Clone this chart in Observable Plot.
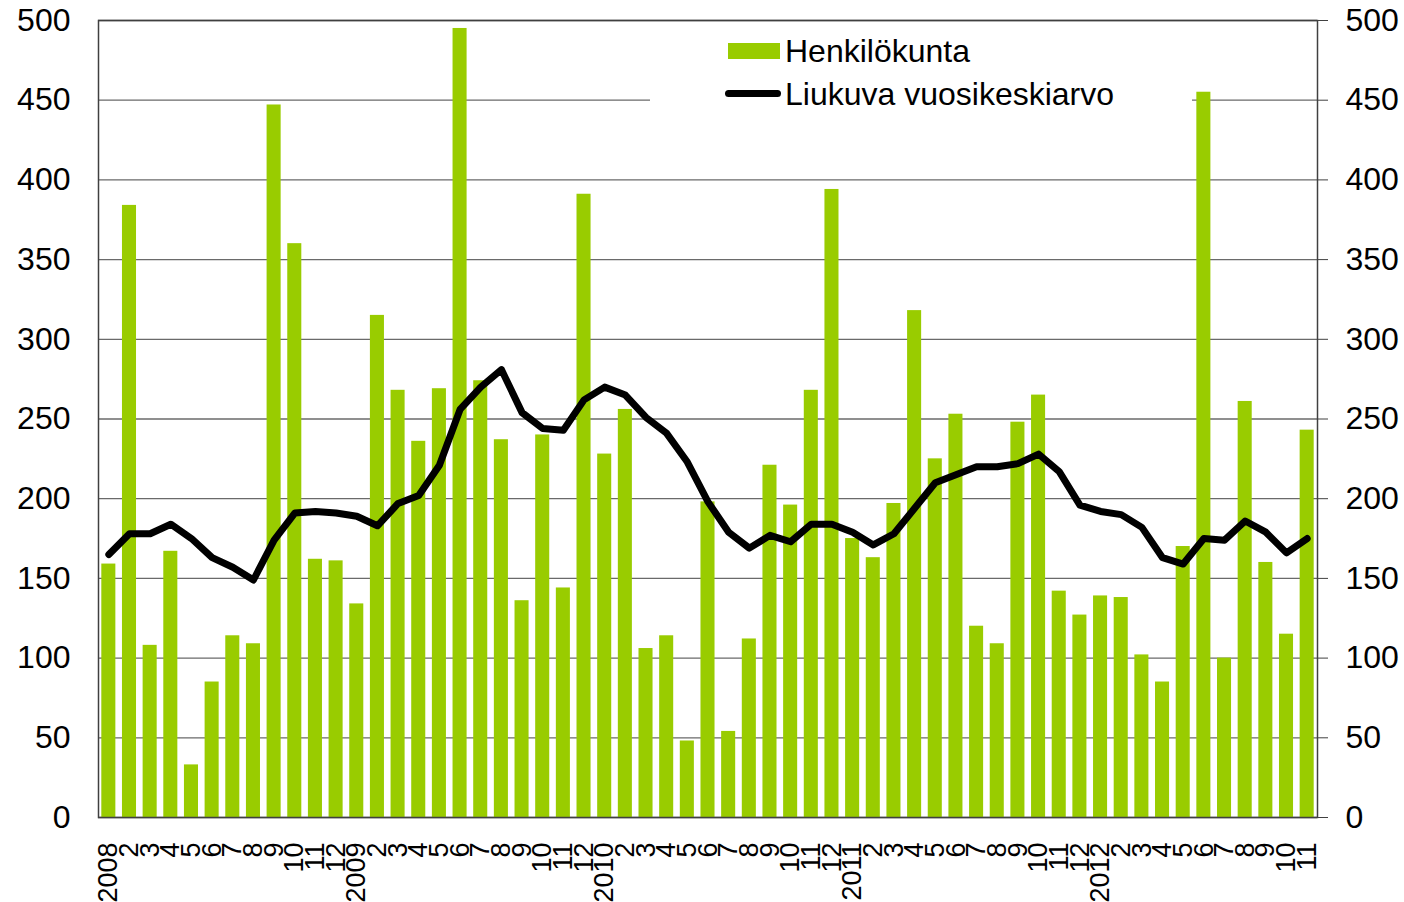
<!DOCTYPE html>
<html><head><meta charset="utf-8">
<script src="https://cdn.jsdelivr.net/npm/d3@7"></script>
<script src="https://cdn.jsdelivr.net/npm/@observablehq/plot@0.6"></script>
<style>
body{margin:0;background:#fff;font-family:"Liberation Sans",Arial,sans-serif;}
#wrap{position:relative;width:1404px;height:902px;overflow:hidden;}
#legend{position:absolute;left:650px;top:28px;width:542px;height:90px;background:#fff;}
.sw{position:absolute;}
.lt{position:absolute;font-size:32px;color:#000;white-space:nowrap;line-height:1;}
</style></head><body><div id="wrap"></div>
<script>
// Tick labels (one per month, 2008-1 .. 2012-11)
const tickLabels = [
  "2008","2","3","4","5","6","7","8","9","10","11","12",
  "2009","2","3","4","5","6","7","8","9","10","11","12",
  "2010","2","3","4","5","6","7","8","9","10","11","12",
  "2011","2","3","4","5","6","7","8","9","10","11","12",
  "2012","2","3","4","5","6","7","8","9","10","11"
];
// Henkilökunta (bars)
const henkilokunta = [
  159,384,108,167,33,85,114,109,447,360,162,161,
  134,315,268,236,269,495,274,237,136,240,144,391,
  228,256,106,114,48,198,54,112,221,196,268,394,
  175,163,197,318,225,253,120,109,248,265,142,127,
  139,138,102,85,170,455,100,261,160,115,243
];
// Liukuva vuosikeskiarvo (line)
const liukuva = [
  165,178,178,184,175,163,157,149,174,191,192,191,
  189,183,197,202,221,256,270,281,254,244,243,262,
  270,265,251,241,223,198,179,169,177,173,184,184,
  179,171,178,194,210,215,220,220,222,228,217,196,
  192,190,182,163,159,175,174,186,179,166,175
];
const yTicks = [0,50,100,150,200,250,300,350,400,450,500];
const seriesNames = ["Henkilökunta","Liukuva vuosikeskiarvo"];
const barColor = "#99cc00";
const lineColor = "#000000";

const months = tickLabels.map((_, i) => i);
const data = months.map(i => ({i, v: henkilokunta[i], a: liukuva[i]}));

const chart = Plot.plot({
  width: 1404, height: 902,
  marginTop: 20, marginRight: 87, marginBottom: 85, marginLeft: 98,
  style: {fontFamily: "'Liberation Sans', Arial, sans-serif", background: "white", color: "#000"},
  x: {type: "band", domain: months, paddingInner: 0.32, paddingOuter: 0.16},
  y: {domain: [0, 500]},
  marks: [
    Plot.gridY(yTicks, {stroke: "#6a6a6a", strokeOpacity: 1, strokeWidth: 1.3}),
    Plot.barY(data, {x: "i", y: "v", fill: barColor}),
    Plot.line(data, {x: "i", y: "a", stroke: lineColor, strokeWidth: 7, strokeLinejoin: "round", strokeLinecap: "round"}),
    Plot.frame({stroke: "#404040", strokeWidth: 1.5}),
    Plot.axisY(yTicks, {anchor: "left", tickSize: 0, tickPadding: 28, fontSize: 32, label: null}),
    Plot.axisY(yTicks, {anchor: "right", tickSize: 10, tickPadding: 18, fontSize: 32, label: null, stroke: "#404040"}),
    Plot.axisX(months, {tickRotate: -90, tickSize: 0, tickPadding: 25, fontSize: 27, label: null, tickFormat: i => tickLabels[i]})
  ]
});
const wrap = document.getElementById("wrap");
wrap.appendChild(chart);

const legend = document.createElement("div");
legend.id = "legend";
legend.innerHTML = `
  <div class="sw" style="left:78px;top:15px;width:52px;height:16px;background:${barColor}"></div>
  <div class="lt" style="left:135px;top:7px">${seriesNames[0]}</div>
  <div class="sw" style="left:75px;top:62px;width:56px;height:7px;border-radius:4px;background:${lineColor}"></div>
  <div class="lt" style="left:135px;top:50px">${seriesNames[1]}</div>`;
wrap.appendChild(legend);
</script>
</body></html>
